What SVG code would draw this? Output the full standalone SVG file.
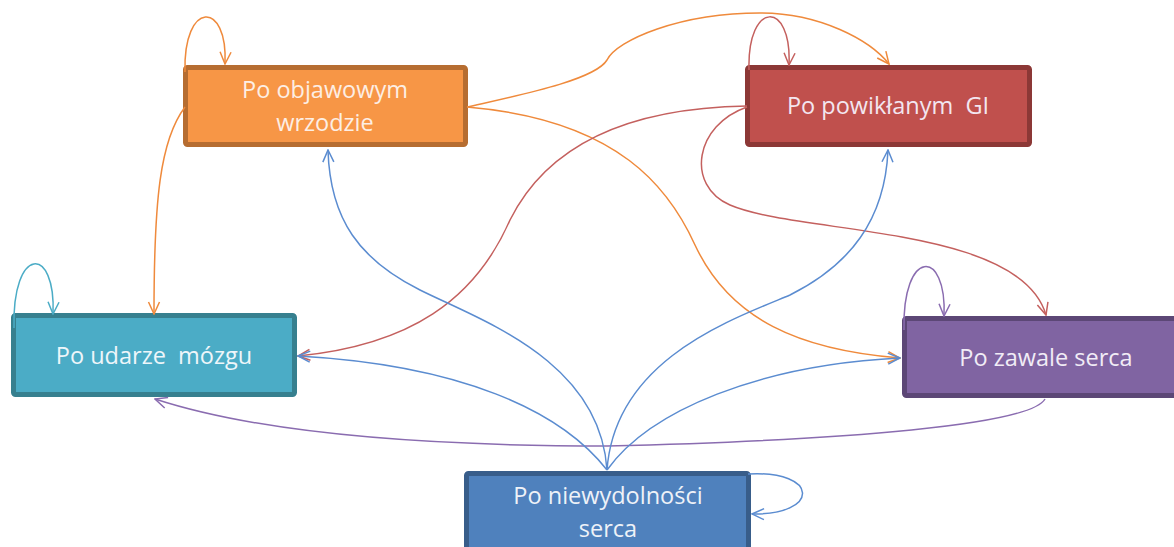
<svg xmlns="http://www.w3.org/2000/svg" width="1174" height="547" viewBox="0 0 1174 547">
<style>
.lbl{font-family:"Open Sans","Liberation Sans",sans-serif;font-size:23.5px;text-anchor:middle;white-space:pre}
.c{fill:none;stroke-width:1.5}
.o{stroke:#ef8a3c}.r{stroke:#c4605e}.b{stroke:#5b8cd0}.p{stroke:#8a6cb0}.t{stroke:#4bacc6}
</style>
<defs>
<marker id="ao" viewBox="-13 -7 14 14" refX="0" refY="0" markerWidth="14" markerHeight="14" markerUnits="userSpaceOnUse" orient="auto"><path d="M-12,-5.5 L0,0 L-12,5.5" fill="none" stroke="#ef8a3c" stroke-width="1.5"/></marker>
<marker id="ar" viewBox="-13 -7 14 14" refX="0" refY="0" markerWidth="14" markerHeight="14" markerUnits="userSpaceOnUse" orient="auto"><path d="M-12,-5.5 L0,0 L-12,5.5" fill="none" stroke="#c4605e" stroke-width="1.5"/></marker>
<marker id="ab" viewBox="-13 -7 14 14" refX="0" refY="0" markerWidth="14" markerHeight="14" markerUnits="userSpaceOnUse" orient="auto"><path d="M-12,-5.5 L0,0 L-12,5.5" fill="none" stroke="#5b8cd0" stroke-width="1.5"/></marker>
<marker id="ap" viewBox="-13 -7 14 14" refX="0" refY="0" markerWidth="14" markerHeight="14" markerUnits="userSpaceOnUse" orient="auto"><path d="M-12,-5.5 L0,0 L-12,5.5" fill="none" stroke="#8a6cb0" stroke-width="1.5"/></marker>
<marker id="at" viewBox="-13 -7 14 14" refX="0" refY="0" markerWidth="14" markerHeight="14" markerUnits="userSpaceOnUse" orient="auto"><path d="M-12,-5.5 L0,0 L-12,5.5" fill="none" stroke="#4bacc6" stroke-width="1.5"/></marker>
</defs>
<rect width="1174" height="547" fill="#fff"/>

<g id="node-wrzod">
<rect x="185.5" y="67.5" width="280" height="77" rx="2" fill="#f79646" stroke="#b66d31" stroke-width="5"/>
<text class="lbl" x="325" y="98" fill="#fdeee4">Po objawowym</text>
<text class="lbl" x="325" y="131" fill="#fdeee4">wrzodzie</text>
</g>
<g id="node-gi">
<rect x="747.5" y="67.5" width="282" height="77" rx="2" fill="#c0504d" stroke="#8c3836" stroke-width="5"/>
<text class="lbl" x="888" y="114" fill="#f3e6f0">Po powikłanym  GI</text>
</g>
<g id="node-udar">
<rect x="13.5" y="315.5" width="281" height="79" rx="2" fill="#4bacc6" stroke="#37808f" stroke-width="5"/>
<text class="lbl" x="154" y="364" fill="#eef6fa">Po udarze  mózgu</text>
</g>
<g id="node-zawal">
<rect x="904.5" y="318.5" width="280" height="77" rx="2" fill="#8064a2" stroke="#5c4776" stroke-width="5"/>
<text class="lbl" x="1046" y="366" fill="#f1ecf6">Po zawale serca</text>
</g>
<g id="node-niewydolnosc">
<rect x="466.5" y="473.5" width="282" height="90" rx="2" fill="#4f81bd" stroke="#385d8a" stroke-width="5"/>
<text class="lbl" x="608" y="504" fill="#eef2f8">Po niewydolności</text>
<text class="lbl" x="608" y="537" fill="#eef2f8">serca</text>
</g>

<g id="connectors">
<path class="c o" d="M185,72 C183,0 228,0 225,64" marker-end="url(#ao)"/>
<path class="c r" d="M749,70 C747,0 792,0 789,65" marker-end="url(#ar)"/>
<path class="c t" d="M14,328 C12,245 56,245 53,314" marker-end="url(#at)"/>
<path class="c p" d="M904,330 C902,248 947,248 944,316" marker-end="url(#ap)"/>
<path class="c b" d="M748,474 C820,470 820,515 752,514" marker-end="url(#ab)"/>

<path class="c o" d="M185,107 C160,140 154,200 154,314" marker-end="url(#ao)"/>
<path class="c o" d="M467,107 C520,95 595,80 607,60 C617,40 680,13 760,13 C820,13 870,40 889,64" marker-end="url(#ao)"/>
<path class="c o" d="M467,107 C620,120 670,190 695,245 C730,320 800,350 900,358" marker-end="url(#ao)"/>

<path class="c r" d="M747,106 C620,108 545,150 510,220 C475,300 410,345 298,356" marker-end="url(#ar)"/>
<path class="c r" d="M747,107 C695,125 685,185 730,205 C800,235 1020,225 1046,315" marker-end="url(#ar)"/>

<path class="c p" d="M1045,399 C1030,425 850,440 607,446 C400,446 250,430 155,399" marker-end="url(#ap)"/>

<path class="c b" d="M607,470 C600,360 480,320 420,290 C360,260 330,220 328,150" marker-end="url(#ab)"/>
<path class="c b" d="M607,470 C615,360 730,320 790,295 C850,265 885,220 888,150" marker-end="url(#ab)"/>
<path class="c b" d="M607,470 C560,410 460,365 298,356" marker-end="url(#ab)"/>
<path class="c b" d="M607,470 C650,410 760,365 900,358" marker-end="url(#ab)"/>
</g>
</svg>
